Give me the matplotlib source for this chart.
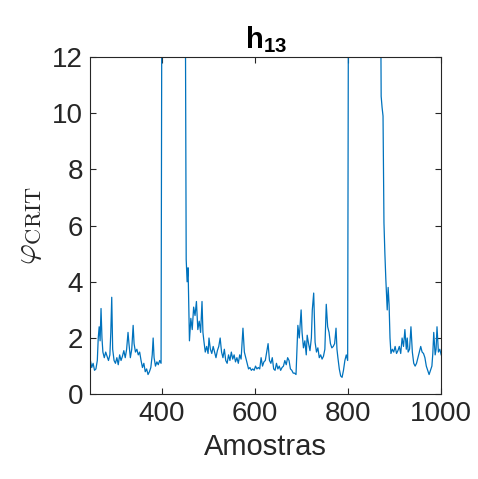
import numpy as np
import matplotlib.pyplot as plt

plt.rcParams['font.family'] = ['Liberation Sans', 'DejaVu Sans']
plt.rcParams['mathtext.fontset'] = 'custom'
plt.rcParams['mathtext.rm'] = 'Liberation Sans'
plt.rcParams['mathtext.bf'] = 'Liberation Sans:bold'

# amostras (eixo x) e valores de phi_CRIT
amostras = [245, 249, 252, 255, 258, 261, 263, 265, 267, 269, 271, 273, 276, 279, 282, 285,
            288, 290, 292, 294, 297, 300, 303, 306, 309, 312, 315, 318, 321, 324, 327, 329,
            332, 335, 338, 340, 343, 346, 349, 352, 355, 358, 361, 364, 367, 370, 373, 376,
            379, 381, 383, 386, 389, 392, 395, 398, 401, 410, 425, 440, 449, 452, 454, 456,
            459, 462, 465, 468, 471, 474, 477, 480, 483, 486, 488, 490, 493, 496, 499, 501,
            504, 507, 510, 513, 516, 519, 522, 525, 528, 531, 534, 537, 540, 543, 546, 549,
            552, 555, 558, 561, 564, 567, 570, 574, 577, 580, 583, 586, 589, 592, 595, 598,
            601, 604, 607, 610, 613, 616, 619, 622, 625, 628, 631, 634, 637, 640, 643, 646,
            649, 652, 655, 658, 661, 664, 667, 670, 673, 676, 679, 682, 685, 688, 690, 692,
            695, 699, 701, 704, 707, 710, 712, 715, 718, 721, 723, 726, 729, 732, 735, 738,
            741, 744, 747, 750, 753, 756, 759, 762, 765, 768, 771, 774, 776, 778, 781, 784,
            787, 790, 793, 796, 799, 802, 815, 835, 855, 868, 871, 873, 875, 877, 879, 881,
            884, 886, 888, 890, 892, 895, 898, 901, 904, 907, 910, 913, 916, 919, 922, 925,
            927, 929, 932, 935, 938, 941, 944, 947, 950, 953, 956, 959, 962, 965, 968, 971,
            974, 977, 980, 982, 984, 987, 989, 991, 994, 997, 1000]
phi_crit = [1.3, 0.95, 1.1, 0.85, 0.9, 1.2, 2.0, 2.4, 1.9, 3.05, 2.0, 1.5, 1.3, 1.5, 1.35, 1.2,
            1.4, 2.2, 3.45, 1.6, 1.2, 1.1, 1.3, 1.05, 1.4, 1.2, 1.35, 1.55, 1.3, 1.6, 2.2, 1.8,
            1.3, 1.6, 2.45, 1.8, 1.5, 1.6, 1.4, 1.5, 1.2, 0.95, 1.1, 0.8, 0.9, 0.7, 0.8, 0.95,
            1.4, 2.0, 1.3, 1.0, 1.15, 1.05, 1.2, 1.1, 25.0, 40.0, 35.0, 30.0, 20.0, 4.8, 4.0, 4.5,
            1.9, 2.7, 2.3, 3.1, 2.8, 3.3, 2.3, 2.6, 2.2, 3.3, 2.2, 1.9, 1.5, 1.7, 1.45, 2.0,
            1.6, 1.45, 1.7, 1.5, 1.3, 1.55, 1.7, 2.0, 1.5, 1.3, 1.6, 1.2, 1.1, 1.4, 1.2, 1.5,
            1.25, 1.4, 1.15, 1.3, 1.1, 1.4, 1.25, 2.35, 1.5, 1.3, 1.1, 0.9, 0.95, 0.85, 0.9, 0.85,
            1.0, 0.9, 0.95, 0.9, 1.3, 1.0, 1.15, 1.2, 1.5, 1.8, 1.2, 1.1, 1.3, 0.9, 0.85, 1.1,
            0.9, 1.0, 0.85, 0.95, 1.0, 1.2, 1.05, 1.3, 1.2, 0.9, 0.85, 0.75, 0.75, 0.7, 1.6, 2.45,
            2.0, 3.0, 2.2, 1.65, 1.9, 1.4, 2.1, 1.8, 1.55, 2.0, 3.0, 3.6, 1.85, 1.5, 1.65, 1.3,
            1.4, 1.25, 1.35, 1.6, 3.2, 2.4, 2.2, 1.8, 1.65, 1.7, 1.8, 2.35, 1.6, 1.3, 0.9, 0.65,
            0.6, 0.85, 1.2, 1.4, 1.2, 25.0, 40.0, 35.0, 30.0, 20.0, 10.6, 10.2, 9.9, 6.1, 5.0, 4.1,
            3.0, 3.8, 3.2, 2.0, 1.45, 1.6, 1.5, 1.7, 1.45, 1.55, 1.7, 1.45, 2.0, 1.7, 2.3, 1.6,
            2.0, 1.5, 1.6, 2.4, 1.5, 1.1, 1.0, 1.1, 1.3, 1.5, 1.7, 1.5, 1.45, 1.3, 1.0, 0.85,
            0.7, 0.85, 1.0, 1.45, 2.2, 1.4, 1.6, 2.4, 1.5, 1.6, 1.4]

xticks = [400, 600, 800, 1000]
yticks = [0, 2, 4, 6, 8, 10, 12]

fig = plt.figure(figsize=(4.78, 4.79), dpi=100)
ax = fig.add_axes([0.188, 0.177, 0.735, 0.704])

ax.plot(amostras, phi_crit, color='#0072BD', lw=0.9)

ax.set_xlim(245, 1000)
ax.set_ylim(0, 12)
ax.set_xticks(xticks)
ax.set_yticks(yticks)
ax.tick_params(direction='in', top=True, right=True, labelsize=20,
               colors='#262626', length=4, width=0.8, pad=5)
for s in ax.spines.values():
    s.set_color('#262626')
    s.set_linewidth(0.8)

ax.set_xlabel('Amostras', fontsize=21, color='#262626', labelpad=4)
ax.set_ylabel(r'$\varphi_{\mathrm{CRIT}}$', fontsize=23, color='#262626',
              math_fontfamily='cm', labelpad=6)
ax.set_title(r'h$_{\mathbf{13}}$', fontsize=21, fontweight='bold', color='black', pad=6)

fig.savefig('out.png', dpi=100)
